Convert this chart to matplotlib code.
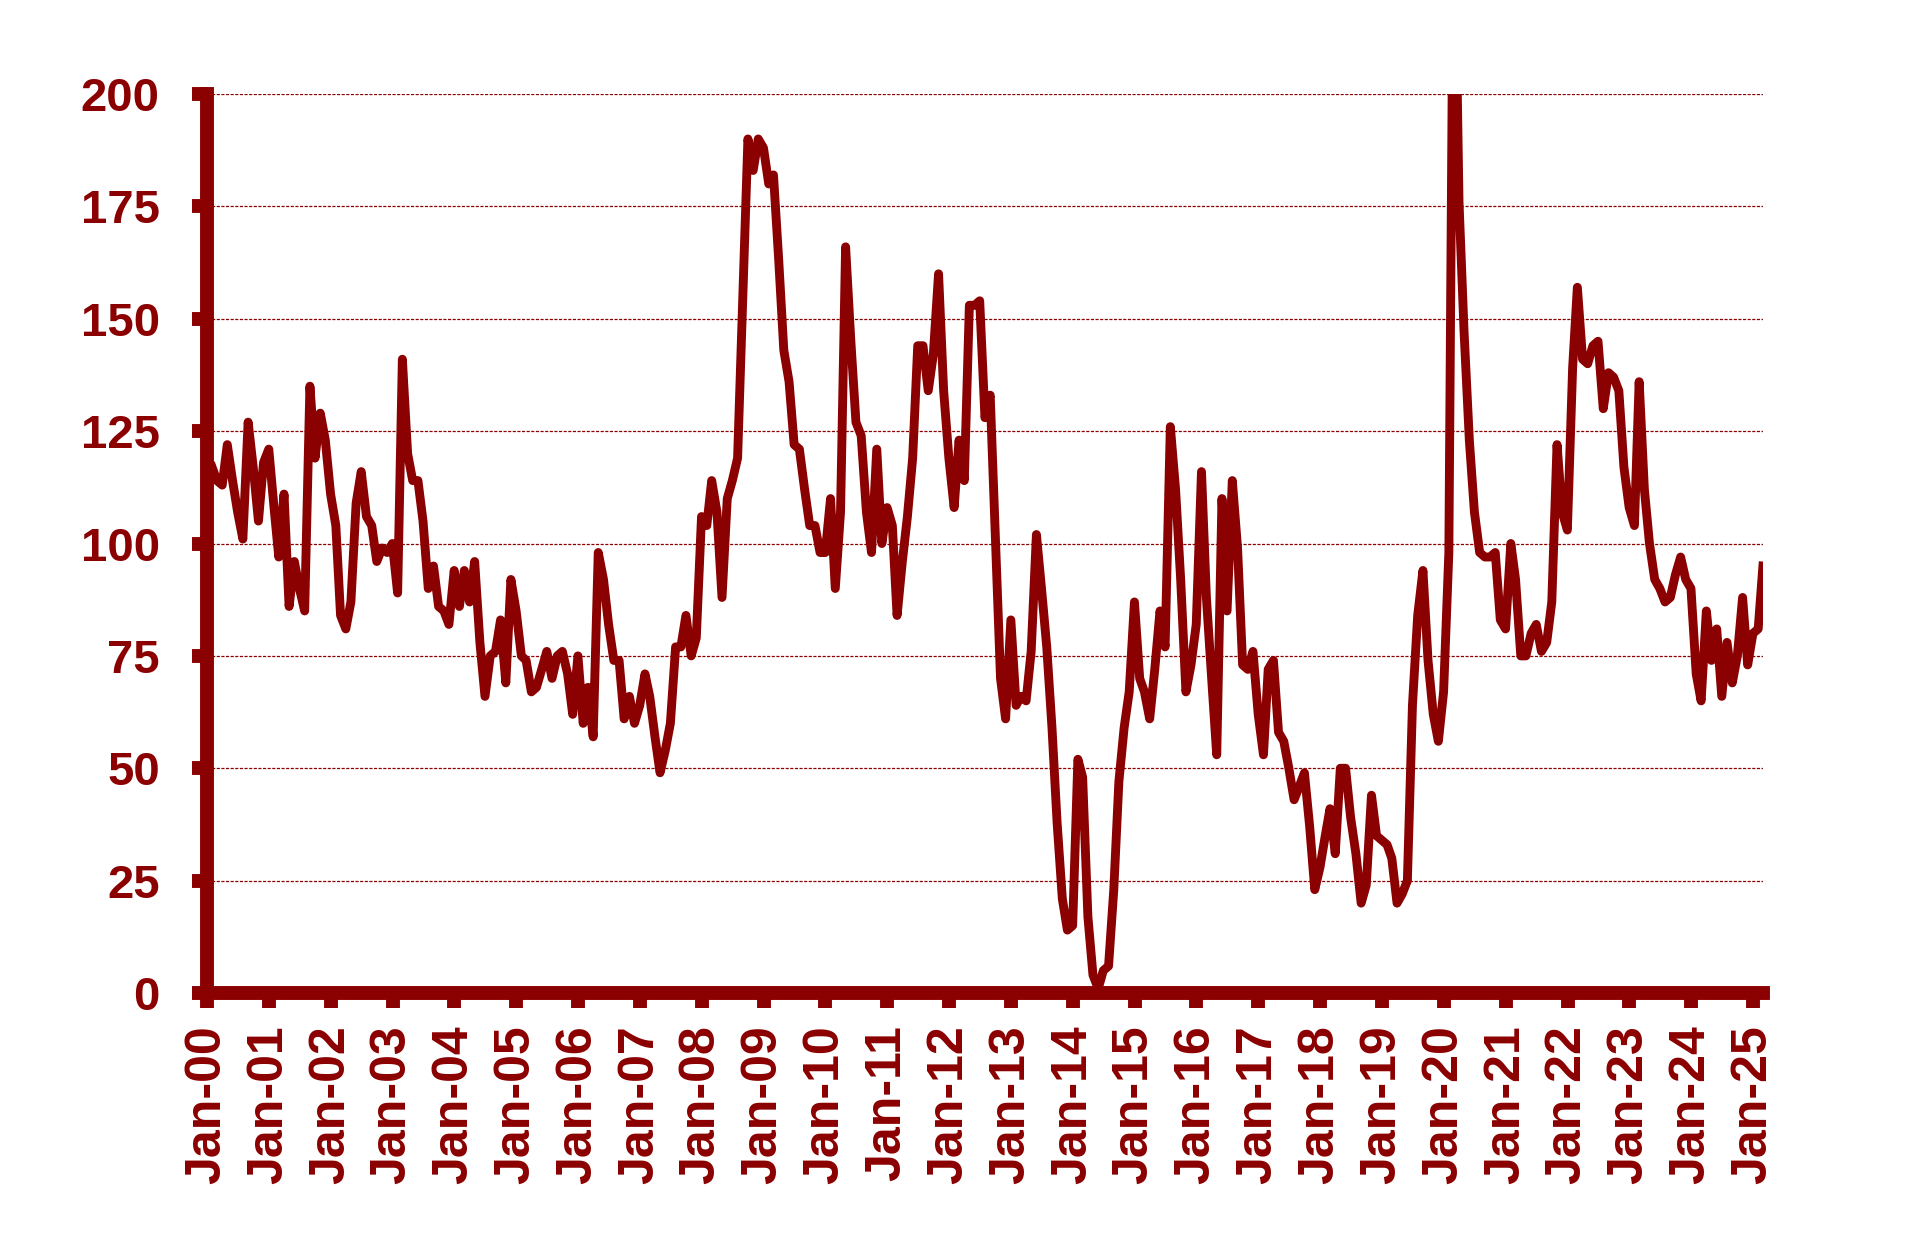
# monthly index, Jan-00 to Feb-25, dark red excel style line chart

import matplotlib
matplotlib.use('Agg')
import matplotlib.pyplot as plt
import matplotlib.dates as mdates
import pandas as pd

# month-end readings, 2000-01 .. 2025-02
values = [
    117, 114, 113, 122, 114, 107, 101, 127, 117, 105,
    118, 121, 108, 97, 111, 86, 96, 90, 85, 135,
    119, 129, 123, 111, 104, 84, 81, 87, 109, 116,
    106, 104, 96, 99, 98, 100, 89, 141, 120, 114,
    114, 105, 90, 95, 86, 85, 82, 94, 86, 94,
    87, 96, 78, 66, 75, 76, 83, 69, 92, 85,
    75, 74, 67, 68, 72, 76, 70, 75, 76, 71,
    62, 75, 60, 68, 57, 98, 92, 82, 74, 74,
    61, 66, 60, 64, 71, 66, 57, 49, 54, 60,
    77, 77, 84, 75, 79, 106, 104, 114, 107, 88,
    110, 114, 119, 155, 190, 183, 190, 188, 180, 182,
    163, 143, 136, 122, 121, 112, 104, 104, 98, 98,
    110, 90, 107, 166, 145, 127, 124, 107, 98, 121,
    100, 108, 104, 84, 96, 106, 119, 144, 144, 134,
    142, 160, 134, 119, 108, 123, 114, 153, 153, 154,
    128, 133, 102, 70, 61, 83, 64, 66, 65, 76,
    102, 90, 77, 59, 38, 21, 14, 15, 52, 48,
    17, 4, 1, 5, 6, 23, 47, 59, 67, 87,
    70, 67, 61, 72, 85, 77, 126, 112, 92, 67,
    73, 82, 116, 88, 70, 53, 110, 85, 114, 99,
    73, 72, 76, 62, 53, 72, 74, 58, 56, 50,
    43, 46, 49, 37, 23, 28, 35, 41, 31, 50,
    50, 39, 31, 20, 24, 44, 35, 34, 33, 30,
    20, 22, 25, 64, 84, 94, 74, 62, 56, 67,
    98, 250, 176, 147, 123, 107, 98, 97, 97, 98,
    83, 81, 100, 92, 75, 75, 80, 82, 76, 78,
    87, 122, 107, 103, 139, 157, 141, 140, 144, 145,
    130, 138, 137, 134, 117, 108, 104, 136, 112, 100,
    92, 90, 87, 88, 93, 97, 92, 90, 71, 65,
    85, 74, 81, 66, 78, 69, 75, 88, 73, 80,
    81, 95,
]
dates = pd.date_range('2000-01-31', periods=len(values), freq='ME')
year_ticks = pd.date_range('2000-01-01', '2025-01-01', freq='YS')
y_ticks = list(range(0, 201, 25))

red = '#8B0000'
plt.rcParams['font.family'] = ['Liberation Sans', 'DejaVu Sans']
plt.rcParams['font.weight'] = 'bold'

fig = plt.figure(figsize=(19.29, 12.57), dpi=100)
ax = fig.add_axes([0.1073, 0.2100, 0.8066, 0.7152])

ax.plot(dates, values, color=red, linewidth=6.4, solid_joinstyle='round', zorder=2)

ax.set_ylim(0, 200)
ax.set_yticks(y_ticks)
ax.set_xlim(pd.Timestamp('2000-01-01'), pd.Timestamp('2025-02-28'))
ax.set_xticks(year_ticks)
ax.xaxis.set_major_formatter(mdates.DateFormatter('%b-%y'))

ax.yaxis.grid(True, linestyle=(0, (2.5, 1.2)), linewidth=0.9, color=red)
ax.set_axisbelow(True)

for side in ['top', 'right']:
    ax.spines[side].set_visible(False)
for side in ['left', 'bottom']:
    ax.spines[side].set_color(red)
    ax.spines[side].set_linewidth(10)

ax.tick_params(axis='both', direction='out', length=11, width=10, color=red, labelcolor=red)
ax.tick_params(axis='x', pad=12, labelsize=36, labelrotation=90)
ax.tick_params(axis='y', pad=23, labelsize=34)
for lbl in ax.get_xticklabels() + ax.get_yticklabels():
    lbl.set_fontweight('bold')

# plt.show()
plt.savefig('out.png', dpi=100)
